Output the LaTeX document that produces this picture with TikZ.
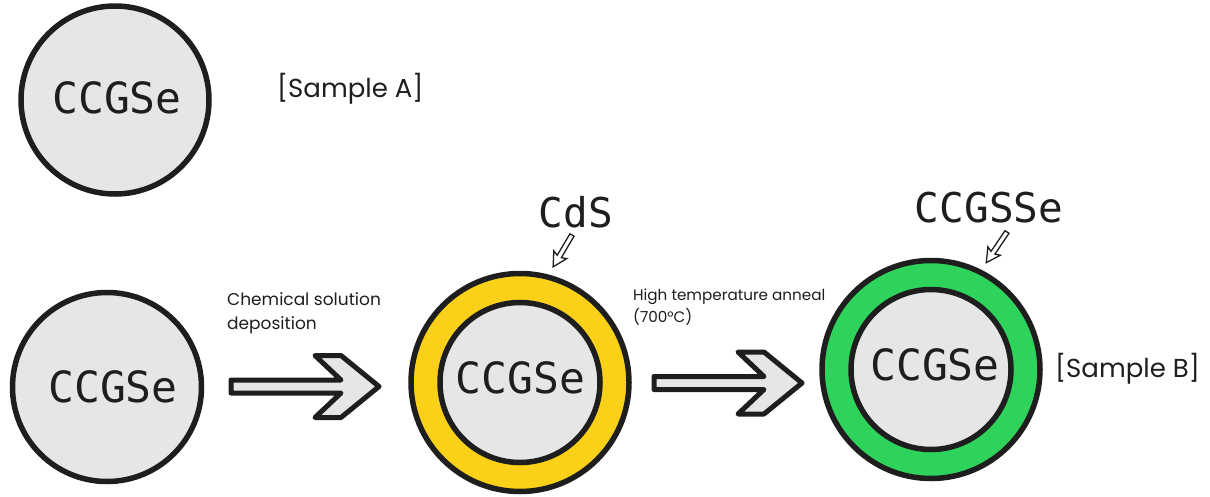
\documentclass[tikz,border=0pt]{standalone}
\usepackage{fontspec}
\setmainfont{Poppins}
\newfontfamily\chemfont{DejaVu Sans Mono}
\definecolor{ink}{RGB}{30,30,30}
\definecolor{core}{RGB}{230,230,230}
\definecolor{cdsyellow}{RGB}{250,208,24}
\definecolor{shellgreen}{RGB}{45,211,90}
\tikzset{
  particle/.style={circle, draw=ink, line width=5.5pt, inner sep=0pt},
  chem/.style={inner sep=0pt, anchor=base, text=ink, font=\chemfont\fontsize{43}{43}\selectfont},
  layerlabel/.style={inner sep=0pt, anchor=base, text=ink, font=\chemfont\fontsize{41}{41}\selectfont},
  note/.style={inner sep=0pt, anchor=base west, text=ink, font=\fontsize{17}{17}\selectfont},
  smallnote/.style={inner sep=0pt, anchor=base west, text=ink, font=\fontsize{15.2}{15.2}\selectfont},
  sample/.style={inner sep=0pt, anchor=base west, text=ink, font=\fontsize{26}{26}\selectfont},
  bigarrow/.pic={
    \draw[ink, line width=5pt, line join=round, fill=core]
      (-3,0) -- (-41,-31) -- (-67,-31) -- (-41,-6.5) -- (-151,-6.5)
      -- (-151,6.5) -- (-41,6.5) -- (-67,31) -- (-41,31) -- cycle;
  },
  pointer/.pic={
    \draw[ink, line width=1.3pt, line join=miter, fill=white]
      (0,-2.4) -- (25,-2.4) -- (23,-7.5) -- (37,0) -- (23,7.5)
      -- (25,2.4) -- (0,2.4) -- cycle;
  }
}
\begin{document}
\begin{tikzpicture}[x=1pt, y=-1pt]
\useasboundingbox (0,0) rectangle (1210,496);

% untreated particle
\node[particle, fill=core, minimum size=188pt] (pA) at (115,100) {};
\node[chem] (tA) at (117,113) {CCGSe};
\node[sample] (sA) at (277,97) {[Sample A]};

% particle before deposition
\node[particle, fill=core, minimum size=189pt] (pB) at (107,387) {};
\node[chem] (tB) at (113,402) {CCGSe};

% deposition step
\node[note] (n1a) at (227,305) {Chemical solution};
\node[note] (n1b) at (227,329) {deposition};
\pic (arr1) at (382,386.5) {bigarrow};

% CdS-coated particle
\node[particle, fill=cdsyellow, minimum size=218pt] (pCo) at (520,382.5) {};
\node[particle, fill=core, minimum size=160pt] (pCi) at (520,382.5) {};
\node[chem] (tC) at (520.5,393) {CCGSe};
\node[layerlabel] (lC) at (576,227) {CdS};
\pic[rotate=-120.7] (ptC) at (572,235) {pointer};

% annealing step
\node[smallnote] (n2a) at (633,300) {High temperature anneal};
\node[smallnote] (n2b) at (633,322) {(700\textdegree C)};
\pic (arr2) at (805,383) {bigarrow};

% sulfo-selenide shell particle
\node[particle, fill=shellgreen, minimum size=218pt] (pDo) at (931,369.5) {};
\node[particle, fill=core, minimum size=160pt] (pDi) at (931,369.5) {};
\node[chem] (tD) at (935,380) {CCGSe};
\node[layerlabel] (lD) at (989,222) {CCGSSe};
\pic[rotate=-124.1] (ptD) at (1007,232) {pointer};
\node[sample] (sB) at (1055,377) {[Sample B]};
\end{tikzpicture}
\end{document}
